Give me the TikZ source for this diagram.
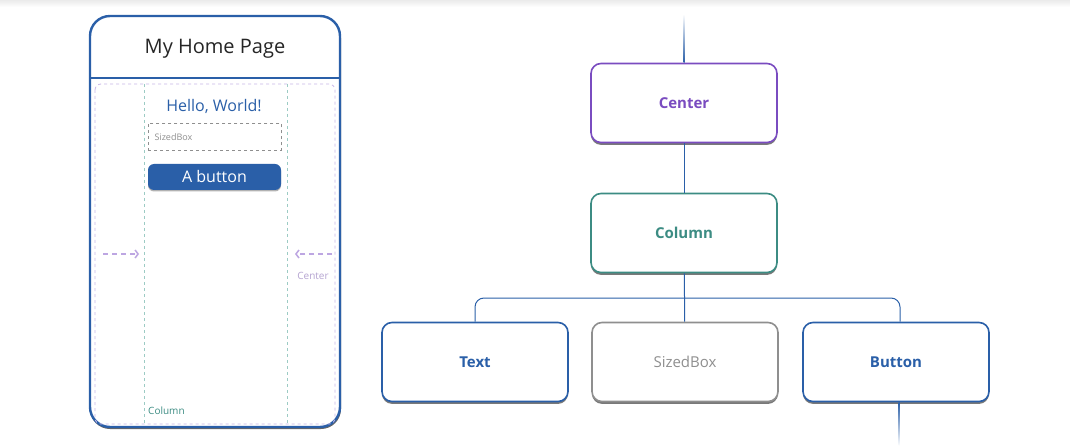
\documentclass[tikz,border=0pt]{standalone}
\usepackage{fontspec}
\setmainfont{Open Sans}
\usetikzlibrary{arrows.meta,shadows}

\definecolor{fblue}{HTML}{2A5FA8}
\definecolor{fpurple}{HTML}{7A4CC0}
\definecolor{fteal}{HTML}{3C8C83}
\definecolor{fgray}{HTML}{8F8F8F}
\definecolor{lpurple}{HTML}{C9B6E8}
\definecolor{lteal}{HTML}{9CCBC4}

\begin{document}
\begin{tikzpicture}[x=1pt,y=-1pt,
	widget/.style={rectangle, rounded corners=10pt, line width=1.6pt, fill=white, minimum width=186pt, minimum height=79pt, font=\bfseries\fontsize{15}{18}\selectfont, drop shadow={shadow xshift=0pt, shadow yshift=-2.4pt, opacity=0.7, fill=black!75}},
	link/.style={fblue, line width=1pt}]
	\useasboundingbox (0,0) rectangle (1070,446);
	\shade[top color=black!8, bottom color=white] (0,0) rectangle (1070,7);

	% the phone
	\draw[fill=black!60, draw=none, rounded corners=20pt] (90,18) rectangle (341,429);
	\draw[fblue, line width=2.4pt, fill=white, rounded corners=20pt] (90,16) rectangle (340,427);
	\draw[fblue, line width=1.4pt] (90,78) -- (340,78);
	\node[text=black!85, font=\fontsize{20}{24}\selectfont] (title) at (215,49) {My Home Page};

	\draw[lpurple, dashed, line width=0.8pt, rounded corners=6pt] (95,84) rectangle (335,424);
	\draw[lteal, dashed, line width=0.8pt] (144,84) -- (144,424);
	\draw[lteal, dashed, line width=0.8pt] (287,84) -- (287,424);
	\node[anchor=west, text=fteal, font=\fontsize{10}{12}\selectfont, inner sep=0pt] (collbl) at (148,411) {Column};
	\node[text=lpurple!90!black, font=\fontsize{10}{12}\selectfont, inner sep=0pt] (cenlbl) at (313,276) {Center};

	\node[text=fblue, font=\fontsize{16}{19}\selectfont] (hello) at (214,106) {Hello, World!};
	\node[draw=fgray, dashed, line width=0.8pt, minimum width=133pt, minimum height=27pt, anchor=north west] (box) at (148,123) {};
	\node[anchor=west, text=fgray, font=\fontsize{9}{11}\selectfont] (boxlbl) at (151,137) {SizedBox};
	\node[fill=fblue, text=white, rounded corners=6pt, minimum width=133pt, minimum height=26pt, font=\fontsize{16}{19}\selectfont, drop shadow={shadow xshift=0pt, shadow yshift=-1.5pt, opacity=0.6}] (btn) at (214.5,177) {A button};

	\coordinate (la) at (103,254);
	\coordinate (lb) at (139,254);
	\coordinate (ra) at (332,254);
	\coordinate (rb) at (295,254);
	\draw[lpurple!85!fpurple, line width=1.5pt, dash pattern=on 5pt off 4pt, -{Straight Barb[length=3pt,width=8pt]}] (la) -- (lb);
	\draw[lpurple!85!fpurple, line width=1.5pt, dash pattern=on 5pt off 4pt, -{Straight Barb[length=3pt,width=8pt]}] (ra) -- (rb);

	% the widget tree
	\node[widget, draw=fpurple, text=fpurple] (C) at (684,103) {Center};
	\node[widget, draw=fteal, text=fteal] (Col) at (684,233) {Column};
	\node[widget, draw=fblue, text=fblue] (T) at (475,362) {Text};
	\node[widget, draw=fgray, text=fgray, font=\fontsize{15}{18}\selectfont] (S) at (685,362) {SizedBox};
	\node[widget, draw=fblue, text=fblue] (B) at (896,362) {Button};

	\coordinate (top) at (684,14);
	\coordinate (bar) at (685,298);
	\coordinate (bot) at (899,446);
	\shade[top color=white, bottom color=fblue] ([xshift=-0.5pt]top) rectangle ([xshift=0.5pt]C.north);
	\draw[link] (C) -- (Col);
	\draw[link] (Col) -- (S);
	\draw[link, rounded corners=9pt] (T.north) |- (bar) -| ([xshift=4pt]B.north);
	\shade[top color=fblue, bottom color=white] ([xshift=2.5pt]B.south) rectangle ([xshift=0.5pt]bot);
\end{tikzpicture}
\end{document}
